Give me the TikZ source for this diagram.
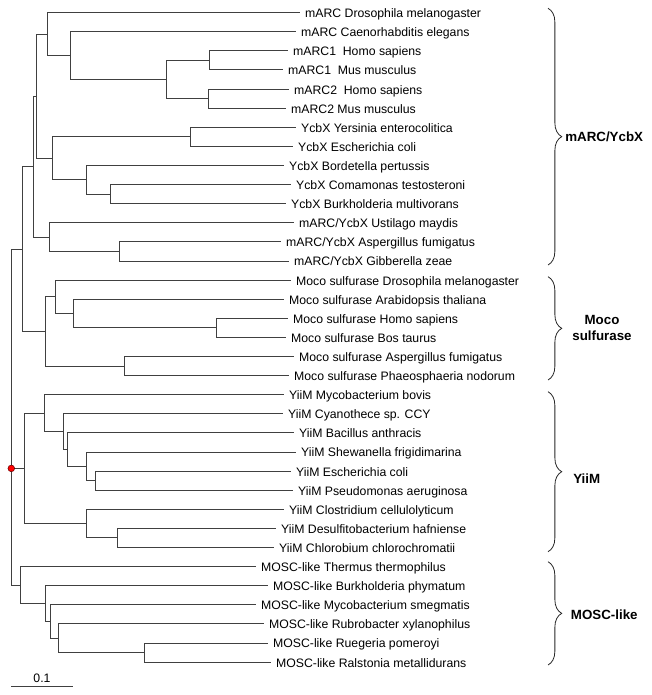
\documentclass[tikz,border=0pt]{standalone}
\usepackage{fontspec}
\setmainfont{Liberation Sans}
\usetikzlibrary{decorations.pathreplacing}
\begin{document}
\begin{tikzpicture}[x=0.75pt,y=-0.75pt,
  br/.style={draw=black!75,line width=0.75pt,line cap=rect},
  leaf/.style={anchor=west,inner xsep=4.6pt,inner ysep=0pt,outer sep=0pt,
    font=\fontsize{9.2}{11}\selectfont,text height=1.6ex,text depth=0.2ex},
  grp/.style={font=\fontsize{10}{12}\selectfont\bfseries,inner sep=0pt},
  bracepath/.style={decorate,decoration={brace,amplitude=10.3pt},draw=black!85,line width=0.6pt}]
\useasboundingbox (0,0) rectangle (652,695);
% leaves
\node[leaf] (l0) at (299,12.7) {mARC Drosophila melanogaster};
\node[leaf] (l1) at (295,31.8) {mARC Caenorhabditis elegans};
\node[leaf] (l2) at (287,50.9) {mARC1\ \ Homo sapiens};
\node[leaf] (l3) at (282,70.0) {mARC1\ \ Mus musculus};
\node[leaf] (l4) at (288,89.1) {mARC2\ \ Homo sapiens};
\node[leaf] (l5) at (285,108.2) {mARC2 Mus musculus};
\node[leaf] (l6) at (295,127.3) {YcbX Yersinia enterocolitica};
\node[leaf] (l7) at (292,146.4) {YcbX Escherichia coli};
\node[leaf] (l8) at (283,165.5) {YcbX Bordetella pertussis};
\node[leaf] (l9) at (290,184.6) {YcbX Comamonas testosteroni};
\node[leaf] (l10) at (285,203.7) {YcbX Burkholderia multivorans};
\node[leaf] (l11) at (293,222.8) {mARC/YcbX Ustilago maydis};
\node[leaf] (l12) at (280,241.9) {mARC/YcbX Aspergillus fumigatus};
\node[leaf] (l13) at (288,261.0) {mARC/YcbX Gibberella zeae};
\node[leaf] (l14) at (290,280.1) {Moco sulfurase Drosophila melanogaster};
\node[leaf] (l15) at (283,299.2) {Moco sulfurase Arabidopsis thaliana};
\node[leaf] (l16) at (287,318.3) {Moco sulfurase Homo sapiens};
\node[leaf] (l17) at (285,337.4) {Moco sulfurase Bos taurus};
\node[leaf] (l18) at (293,356.5) {Moco sulfurase Aspergillus fumigatus};
\node[leaf] (l19) at (288,375.6) {Moco sulfurase Phaeosphaeria nodorum};
\node[leaf] (l20) at (283,394.7) {YiiM Mycobacterium bovis};
\node[leaf] (l21) at (282,413.8) {YiiM Cyanothece sp. CCY};
\node[leaf] (l22) at (293,432.9) {YiiM Bacillus anthracis};
\node[leaf] (l23) at (295,452.0) {YiiM Shewanella frigidimarina};
\node[leaf] (l24) at (290,471.1) {YiiM Escherichia coli};
\node[leaf] (l25) at (292,490.2) {YiiM Pseudomonas aeruginosa};
\node[leaf] (l26) at (283,509.3) {YiiM Clostridium cellulolyticum};
\node[leaf] (l27) at (275,528.4) {YiiM Desulfitobacterium hafniense};
\node[leaf] (l28) at (273,547.5) {YiiM Chlorobium chlorochromatii};
\node[leaf] (l29) at (255,566.6) {MOSC-like Thermus thermophilus};
\node[leaf] (l30) at (267,585.7) {MOSC-like Burkholderia phymatum};
\node[leaf] (l31) at (255,604.8) {MOSC-like Mycobacterium smegmatis};
\node[leaf] (l32) at (263,623.9) {MOSC-like Rubrobacter xylanophilus};
\node[leaf] (l33) at (267,643.0) {MOSC-like Ruegeria pomeroyi};
\node[leaf] (l34) at (270,662.1) {MOSC-like Ralstonia metallidurans};
% internal nodes
\coordinate (n23) at (209.7,60.45);
\coordinate (n45) at (208,98.65);
\coordinate (n2345) at (166.3,79.55);
\coordinate (n1_5) at (70,55.7);
\coordinate (n0_5) at (47.7,34.2);
\coordinate (n67) at (190,136.85);
\coordinate (n9_10) at (110.3,194.15);
\coordinate (n8_10) at (86.7,179.8);
\coordinate (n6_10) at (52.7,158.3);
\coordinate (n0_10) at (36,96.25);
\coordinate (n12_13) at (119,251.45);
\coordinate (n11_13) at (49.3,237.1);
\coordinate (n0_13) at (33.3,166.7);
\coordinate (n16_17) at (216.7,327.85);
\coordinate (n15_17) at (73.7,313.5);
\coordinate (n14_17) at (55.7,296.8);
\coordinate (n18_19) at (124.7,366.05);
\coordinate (n14_19) at (45.7,331.4);
\coordinate (n0_19) at (22.3,249.05);
\coordinate (n24_25) at (95.3,480.65);
\coordinate (n23_25) at (86.7,466.3);
\coordinate (n22_25) at (67.7,449.6);
\coordinate (n21_25) at (63.3,431.7);
\coordinate (n20_25) at (44.3,413.2);
\coordinate (n27_28) at (117,537.95);
\coordinate (n26_28) at (86,523.6);
\coordinate (n20_28) at (24.7,468.4);
\coordinate (n33_34) at (144.3,652.55);
\coordinate (n32_34) at (58.7,638.2);
\coordinate (n31_34) at (50,621.5);
\coordinate (n30_34) at (45.3,603.6);
\coordinate (n29_34) at (20,585.1);
\coordinate (root) at (11.3,468.4);
% branches
\draw[br] (root) |- (n0_19);
\draw[br] (root) |- (n20_28);
\draw[br] (root) |- (n29_34);
\draw[br] (n0_19) |- (n0_13);
\draw[br] (n0_19) |- (n14_19);
\draw[br] (n0_13) |- (n0_10);
\draw[br] (n0_13) |- (n11_13);
\draw[br] (n0_10) |- (n0_5);
\draw[br] (n0_10) |- (n6_10);
\draw[br] (n0_5) |- (l0.west);
\draw[br] (n0_5) |- (n1_5);
\draw[br] (n1_5) |- (l1.west);
\draw[br] (n1_5) |- (n2345);
\draw[br] (n2345) |- (n23);
\draw[br] (n2345) |- (n45);
\draw[br] (n23) |- (l2.west);
\draw[br] (n23) |- (l3.west);
\draw[br] (n45) |- (l4.west);
\draw[br] (n45) |- (l5.west);
\draw[br] (n6_10) |- (n67);
\draw[br] (n6_10) |- (n8_10);
\draw[br] (n67) |- (l6.west);
\draw[br] (n67) |- (l7.west);
\draw[br] (n8_10) |- (l8.west);
\draw[br] (n8_10) |- (n9_10);
\draw[br] (n9_10) |- (l9.west);
\draw[br] (n9_10) |- (l10.west);
\draw[br] (n11_13) |- (l11.west);
\draw[br] (n11_13) |- (n12_13);
\draw[br] (n12_13) |- (l12.west);
\draw[br] (n12_13) |- (l13.west);
\draw[br] (n14_19) |- (n14_17);
\draw[br] (n14_19) |- (n18_19);
\draw[br] (n14_17) |- (l14.west);
\draw[br] (n14_17) |- (n15_17);
\draw[br] (n15_17) |- (l15.west);
\draw[br] (n15_17) |- (n16_17);
\draw[br] (n16_17) |- (l16.west);
\draw[br] (n16_17) |- (l17.west);
\draw[br] (n18_19) |- (l18.west);
\draw[br] (n18_19) |- (l19.west);
\draw[br] (n20_28) |- (n20_25);
\draw[br] (n20_28) |- (n26_28);
\draw[br] (n20_25) |- (l20.west);
\draw[br] (n20_25) |- (n21_25);
\draw[br] (n21_25) |- (l21.west);
\draw[br] (n21_25) |- (n22_25);
\draw[br] (n22_25) |- (l22.west);
\draw[br] (n22_25) |- (n23_25);
\draw[br] (n23_25) |- (l23.west);
\draw[br] (n23_25) |- (n24_25);
\draw[br] (n24_25) |- (l24.west);
\draw[br] (n24_25) |- (l25.west);
\draw[br] (n26_28) |- (l26.west);
\draw[br] (n26_28) |- (n27_28);
\draw[br] (n27_28) |- (l27.west);
\draw[br] (n27_28) |- (l28.west);
\draw[br] (n29_34) |- (l29.west);
\draw[br] (n29_34) |- (n30_34);
\draw[br] (n30_34) |- (l30.west);
\draw[br] (n30_34) |- (n31_34);
\draw[br] (n31_34) |- (l31.west);
\draw[br] (n31_34) |- (n32_34);
\draw[br] (n32_34) |- (l32.west);
\draw[br] (n32_34) |- (n33_34);
\draw[br] (n33_34) |- (l33.west);
\draw[br] (n33_34) |- (l34.west);
% root marker
\node[circle,fill=red,draw=red!40!black,line width=0.4pt,inner sep=0pt,minimum size=5pt] (rootdot) at (root) {};
% braces
\coordinate (b1t) at (548,8.3);   \coordinate (b1b) at (548,265);
\coordinate (b2t) at (548,276.7); \coordinate (b2b) at (548,380);
\coordinate (b3t) at (548,391.7); \coordinate (b3b) at (548,551.7);
\coordinate (b4t) at (548,561.7); \coordinate (b4b) at (548,665);
\draw[bracepath] (b1t) -- (b1b);
\draw[bracepath] (b2t) -- (b2b);
\draw[bracepath] (b3t) -- (b3b);
\draw[bracepath] (b4t) -- (b4b);
\node[grp,anchor=west] (g1) at (565,136.7) {mARC/YcbX};
\node[grp,align=center] (g2) at (602,328) {Moco\\sulfurase};
\node[grp,anchor=west] (g3) at (573,479) {YiiM};
\node[grp,anchor=west] (g4) at (570.7,614.3) {MOSC-like};
% scale bar
\coordinate (s1) at (11,686);
\coordinate (s2) at (72.7,686);
\draw[br] (s1) -- (s2);
\node[font=\fontsize{9.2}{11}\selectfont,inner sep=0pt] (sl) at (42,678) {0.1};
\end{tikzpicture}
\end{document}
